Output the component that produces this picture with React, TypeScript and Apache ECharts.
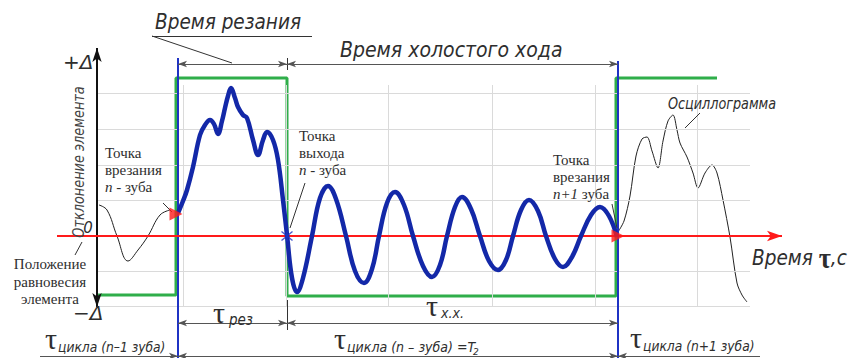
import React, { useEffect, useRef } from "react";
import * as echarts from "echarts";

// ---- axes extents: time along x, deflection along y (0 = equilibrium) ----
const timeRange = [0, 850];
const deflectionRange = [-122, 236];

// ---- background grid ----
const gridTimes = [183, 286, 388, 492, 595, 697];
const gridDeflections = [143, 107, 71, 36, -35, -70];
const gridSpanTime = [97, 750];
const gridSpanDeflection = [-70, 151];

// ---- tooth engagement signal (green) ----
const toothTime = [97, 176, 176, 287, 287, 616, 616, 717];
const toothLevel = [-59, -59, 158, 158, -60, -60, 158, 158];

// ---- key moments ----
const entryN = 178; // entry of tooth n
const exitN = 287; // exit of tooth n
const entryN1 = 618; // entry of tooth n+1

// ---- oscillogram while cutting (blue) ----
const cutTime = [178, 183, 187, 193, 200, 205, 210, 214, 218, 222, 225, 228, 231, 235, 238, 243, 247, 253, 258, 263, 267, 273, 278, 283, 287];
const cutDefl = [23, 35, 46, 69, 101, 111, 116, 112, 102, 115, 128, 140, 148, 138, 129, 121, 118, 96, 81, 96, 104, 96, 76, 36, 1];

// ---- free oscillation during idle run (blue) ----
const idleTime = [292, 297, 303, 312, 320, 328, 336, 346, 355, 364, 372, 379, 387, 395, 404, 413, 423, 432, 440, 447, 455, 462, 471, 480, 489, 498, 506, 513, 521, 529, 538, 546, 555, 563, 572, 581, 591, 600, 609, 617];
const idleDefl = [-42, -56, -42, 0, 38, 50, 37, 0, -35, -47, -33, 0, 33, 44, 31, 0, -30, -41, -29, 0, 29, 39, 27, 0, -25, -34, -24, 0, 26, 36, 25, 0, -23, -31, -21, 0, 21, 29, 20, -1];

// ---- previous tooth tail (thin black) ----
const prevTime = [99, 107, 117, 128, 138, 148, 160, 170];
const prevDefl = [31, 26, 0, -25, -14, 0, 21, 26];

// ---- next tooth oscillogram (thin black) ----
const nextTime = [618, 624, 630, 636, 642, 647, 652, 658, 663, 668, 673, 677, 680, 687, 693, 698, 705, 712, 717, 723, 730, 737, 742, 747];
const nextDefl = [4, 15, 40, 80, 97, 99, 85, 68, 95, 115, 121, 106, 93, 79, 63, 48, 63, 71, 63, 36, -1, -47, -59, -66];

// ---- texts ----
const tCut = "Время резания";
const tIdle = "Время холостого хода";
const tOsc = "Осциллограмма";
const tYAxis = "Отклонение элемента";
const tEntryN = ["Точка", "врезания", "{i|n} - зуба"];
const tExitN = ["Точка", "выхода", "{i|n} - зуба"];
const tEntryN1 = ["Точка", "врезания", "{i|n+1} зуба"];
const tEquil = ["Положение", "равновесия", "элемента"];

const SANS = "DejaVu Sans";
const SERIF = "Liberation Serif";
const INK = "#2e2e2e";

function zip(a: number[], b: number[]) {
  return a.map((v, i) => [v, b[i]]);
}
function seg(x1: number, y1: number, x2: number, y2: number, s1 = "none", s2 = "none") {
  return [
    { coord: [x1, y1], symbol: s1 },
    { coord: [x2, y2], symbol: s2 },
  ];
}
type F = { family: string; size: number; italic?: boolean; bold?: boolean };
function fontProps(f: F) {
  return {
    fontFamily: f.family,
    fontSize: f.size,
    fontStyle: f.italic ? "italic" : "normal",
    fontWeight: f.bold ? "bold" : "normal",
  };
}
function txt(text: string, x: number, y: number, f: F, extra: any = {}) {
  const align = extra.align ?? "left";
  return {
    type: "text",
    x,
    y,
    scaleX: extra.scaleX ?? 1,
    rotation: extra.rotation ?? 0,
    silent: true,
    z: 100,
    style: {
      text,
      ...fontProps(f),
      fill: extra.fill ?? INK,
      align,
      textAlign: align,
      verticalAlign: "middle",
      textVerticalAlign: "middle",
      rich: extra.rich,
    },
  };
}

export default function App() {
  const ref = useRef<HTMLDivElement>(null);
  useEffect(() => {
    if (!ref.current) return;
    document.body.style.margin = "0";
    const chart = echarts.init(ref.current, null, { renderer: "svg" });

    const gridLines: any[] = [];
    gridDeflections.forEach((d) => gridLines.push(seg(gridSpanTime[0], d, gridSpanTime[1], d)));
    gridTimes.forEach((t) => gridLines.push(seg(t, gridSpanDeflection[0], t, gridSpanDeflection[1])));

    const markBase = (color: string, width: number, data: any[], size: any = [6, 10], z = 1) => ({
      type: "line",
      data: [],
      z,
      silent: true,
      markLine: {
        silent: true,
        symbol: ["none", "none"],
        symbolSize: size,
        label: { show: false },
        emphasis: { disabled: true },
        lineStyle: { color, width, type: "solid" },
        data,
      },
    });

    const serif: F = { family: SERIF, size: 15 };
    const serifRich = { i: { ...fontProps({ family: SERIF, size: 15, italic: true }), fill: INK } };
    const multi = (lines: string[], x: number, y0: number, step: number, align = "left") =>
      lines.map((l, i) => txt(l, x, y0 + i * step, serif, { rich: serifRich, align }));

    const tech = (size: number): F => ({ family: SANS, size, italic: true });
    const tau: F = { family: SERIF, size: 30 };

    const graphics: any[] = [
      txt(tCut, 155, 21, tech(22), { scaleX: 0.84 }),
      txt(tIdle, 340, 49, tech(22), { scaleX: 0.86 }),
      txt(tOsc, 668, 103, tech(16), { scaleX: 0.8 }),
      txt("{a|Время }{t|τ}{a|,с}", 752, 258, tech(21), {
        scaleX: 0.88,
        rich: {
          a: { ...fontProps(tech(21)), fill: INK },
          t: { ...fontProps({ family: SERIF, size: 30, bold: true }), fill: INK },
        },
      }),
      txt("+Δ", 63, 62, tech(20)),
      txt("−Δ", 73, 313, tech(20)),
      txt("0", 88, 228, tech(15), { align: "center" }),
      txt(tYAxis, 79, 162, tech(15), { align: "center", rotation: Math.PI / 2, scaleX: 0.86, fill: "#444" }),
      ...multi(tEntryN, 105, 153, 17),
      ...multi(tExitN, 299, 136, 17),
      ...multi(tEntryN1, 553, 160, 17),
      ...multi(tEquil, 50, 264, 17.5, "center"),
      // tau labels
      txt("τ", 213, 312, tau),
      txt("рез", 229, 320, tech(15), { scaleX: 0.9 }),
      txt("τ", 426, 305, tau),
      txt("х.х.", 441, 313, tech(14), { scaleX: 0.9 }),
      txt("τ", 45, 338, tau),
      txt("цикла (n–1 зуба)", 58, 347, tech(14.5), { scaleX: 0.85 }),
      txt("τ", 334, 338, tau),
      txt("цикла (n – зуба) =T", 347, 347, tech(14.5), { scaleX: 0.87 }),
      txt("2", 473, 352, tech(9)),
      txt("τ", 630, 337, tau),
      txt("цикла (n+1 зуба)", 643, 346, tech(14.5), { scaleX: 0.85 }),
    ];

    chart.setOption({
      animation: false,
      grid: { left: 0, right: 0, top: 0, bottom: 0, containLabel: false },
      xAxis: { type: "value", min: timeRange[0], max: timeRange[1], show: false },
      yAxis: { type: "value", min: deflectionRange[0], max: deflectionRange[1], show: false },
      series: [
        markBase("#dadada", 1, gridLines, 0, 1),
        // tooth engagement (green)
        {
          type: "line",
          z: 2,
          data: zip(toothTime, toothLevel),
          showSymbol: false,
          symbol: "none",
          lineStyle: { color: "#2fae4a", width: 3 },
          silent: true,
        },
        // blue moment lines
        markBase("#1f33c4", 2, [seg(entryN, 178, entryN, deflectionRange[0]), seg(entryN1, 175, entryN1, deflectionRange[0])], 0, 3),
        // previous tooth tail
        {
          type: "line",
          z: 3,
          data: zip(prevTime, prevDefl),
          smooth: 0.4,
          showSymbol: false,
          symbol: "none",
          lineStyle: { color: "#222", width: 1 },
          silent: true,
        },
        // next tooth oscillogram
        {
          type: "line",
          z: 3,
          data: zip(nextTime, nextDefl),
          smooth: 0.3,
          showSymbol: false,
          symbol: "none",
          lineStyle: { color: "#222", width: 1 },
          silent: true,
        },
        // thin leaders and extension lines
        markBase("#333", 1, [
          seg(152, 200, 312, 200),
          seg(152, 200, 232, 173),
          seg(163, 33, 172, 24),
          seg(305, 53, 290, 8),
          seg(612, 32, 617, 8),
          seg(700, 123, 685, 108),
          seg(82, -6, 75, -19),
          seg(exitN, 178, exitN, 166),
          seg(exitN, -64, exitN, -94),
        ], 0, 3),
        // dimension lines
        markBase("#555", 1, [
          seg(entryN, 172, exitN, 172, "arrow", "arrow"),
          seg(exitN, 172, entryN1, 172, "arrow", "arrow"),
          seg(entryN, -87, exitN, -87, "arrow", "arrow"),
          seg(exitN, -87, entryN1, -87, "arrow", "arrow"),
          seg(40, -120, entryN, -120, "none", "arrow"),
          seg(entryN, -120, entryN1, -120, "arrow", "arrow"),
          seg(entryN1, -120, 760, -120, "arrow", "none"),
        ], [5, 9], 3),
        // deflection axis
        markBase("#111", 2, [seg(97, -71, 97, 188, "arrow", "arrow")], [7, 14], 4),
        // time axis (red)
        markBase("#ff1a1a", 2.2, [seg(57, 0, 782, 0, "none", "arrow")], [8, 15], 4),
        // oscillogram of tooth n (blue, thick)
        {
          type: "line",
          z: 5,
          data: [...zip(cutTime, cutDefl), ...zip(idleTime, idleDefl)],
          smooth: 0.4,
          showSymbol: false,
          symbol: "none",
          lineStyle: { color: "#1328a8", width: 4.5 },
          silent: true,
        },
        // entry markers
        {
          type: "scatter",
          z: 6,
          silent: true,
          symbol: "triangle",
          symbolSize: 13,
          symbolRotate: -90,
          itemStyle: { color: "#ff1a1a" },
          data: [[entryN - 2, 22], [entryN1, 0]],
        },
        // exit marker
        {
          type: "scatter",
          z: 6,
          silent: true,
          symbol: "path://M0,0L10,10M10,0L0,10M5,-1L5,11",
          symbolSize: 11,
          itemStyle: { color: "rgba(0,0,0,0)", borderColor: "#1f33c4", borderWidth: 1.4 },
          data: [[exitN, 0]],
        },
      ],
      graphic: graphics,
    });
    return () => chart.dispose();
  }, []);
  return (
    <div
      ref={ref}
      style={{ position: "fixed", left: 0, top: 0, width: 850, height: 358, background: "#fff" }}
    />
  );
}
